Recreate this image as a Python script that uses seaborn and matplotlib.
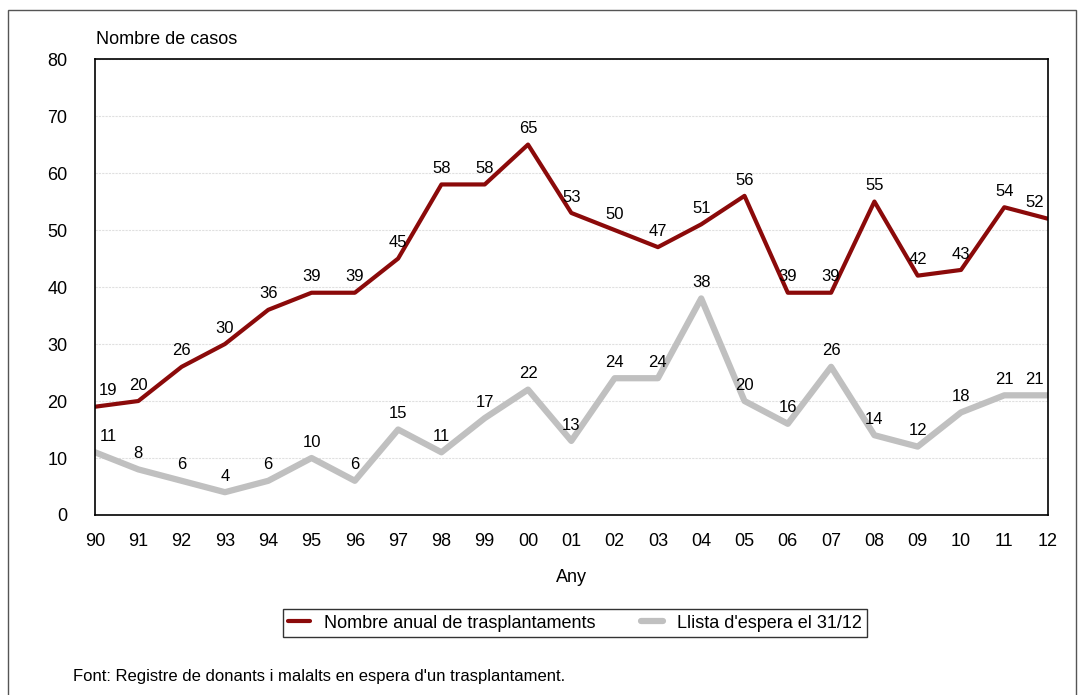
import matplotlib
matplotlib.use("Agg")
import matplotlib.pyplot as plt
from matplotlib.patches import Rectangle
import seaborn as sns
import pandas as pd

years = ["90", "91", "92", "93", "94", "95", "96", "97", "98", "99", "00",
         "01", "02", "03", "04", "05", "06", "07", "08", "09", "10", "11", "12"]
trasplantaments = [19, 20, 26, 30, 36, 39, 39, 45, 58, 58, 65,
                   53, 50, 47, 51, 56, 39, 39, 55, 42, 43, 54, 52]
llista_espera = [11, 8, 6, 4, 6, 10, 6, 15, 11, 17, 22,
                 13, 24, 24, 38, 20, 16, 26, 14, 12, 18, 21, 21]
serie_trasp = "Nombre anual de trasplantaments"
serie_espera = "Llista d'espera el 31/12"

sns.set_style("white")
plt.rcParams["font.family"] = ["Liberation Sans", "DejaVu Sans"]
plt.rcParams["text.color"] = "black"
plt.rcParams["xtick.color"] = "black"
plt.rcParams["ytick.color"] = "black"
plt.rcParams["axes.labelcolor"] = "black"

df = pd.DataFrame({"pos": range(len(years)), "any": years,
                   serie_trasp: trasplantaments, serie_espera: llista_espera})
long = df.melt(id_vars=["pos", "any"], var_name="serie", value_name="casos")

fig = plt.figure(figsize=(10.8, 6.95), dpi=100)
ax = fig.add_axes([0.088, 0.259, 0.882, 0.656])

palette = {serie_trasp: "#8B0A0A", serie_espera: "#C0C0C0"}
sns.lineplot(data=long[long["serie"] == serie_espera], x="pos", y="casos",
             color=palette[serie_espera], lw=4.5, ax=ax, label=serie_espera)
sns.lineplot(data=long[long["serie"] == serie_trasp], x="pos", y="casos",
             color=palette[serie_trasp], lw=3, ax=ax, label=serie_trasp)

# etiquetes de valor
n = len(years)
for i in range(n):
    for vals in (trasplantaments, llista_espera):
        dx = 0
        if i == 0:
            dx = 0.3
        elif i == n - 1:
            dx = -0.3
        ax.annotate(str(vals[i]), (i + dx, vals[i]), textcoords="offset points",
                    xytext=(0, 6), ha="center", va="bottom", fontsize=12)

ax.set_xlim(0, n - 1)
ax.set_ylim(0, 80)
ax.set_xticks(range(n))
ax.set_xticklabels(years)
ax.set_yticks(range(0, 81, 10))
ax.tick_params(axis="both", labelsize=13, length=0)
ax.tick_params(axis="x", pad=13)
ax.tick_params(axis="y", pad=20)
ax.grid(axis="y", color="#E0E0E0", lw=0.8, ls=(0, (2, 1)))
for s in ax.spines.values():
    s.set_color("black")
    s.set_linewidth(1.2)
ax.set_xlabel("Any", fontsize=13, labelpad=14)
ax.set_ylabel("")
handles, labels = ax.get_legend_handles_labels()
ax.get_legend().remove()

fig.text(96 / 1080, 1 - 40 / 695, "Nombre de casos", fontsize=13, va="center", ha="left")

order = [labels.index(serie_trasp), labels.index(serie_espera)]
leg = fig.legend([handles[k] for k in order], [labels[k] for k in order],
                 loc="center", bbox_to_anchor=(575 / 1080, 1 - 623 / 695), ncol=2,
                 fontsize=13, frameon=True, fancybox=False, edgecolor="black",
                 handlelength=1.2, columnspacing=2.5, borderpad=0.3)
leg.get_frame().set_linewidth(1.0)

fig.text(73 / 1080, 1 - 677 / 695,
         "Font: Registre de donants i malalts en espera d'un trasplantament.",
         fontsize=12, va="center", ha="left")

fig.patches.append(Rectangle((8 / 1080, -0.05), 1068 / 1080, 1 - 10 / 695 + 0.05,
                             transform=fig.transFigure, fill=False,
                             edgecolor="#555555", lw=1.0))

fig.savefig("out.png", dpi=100)
